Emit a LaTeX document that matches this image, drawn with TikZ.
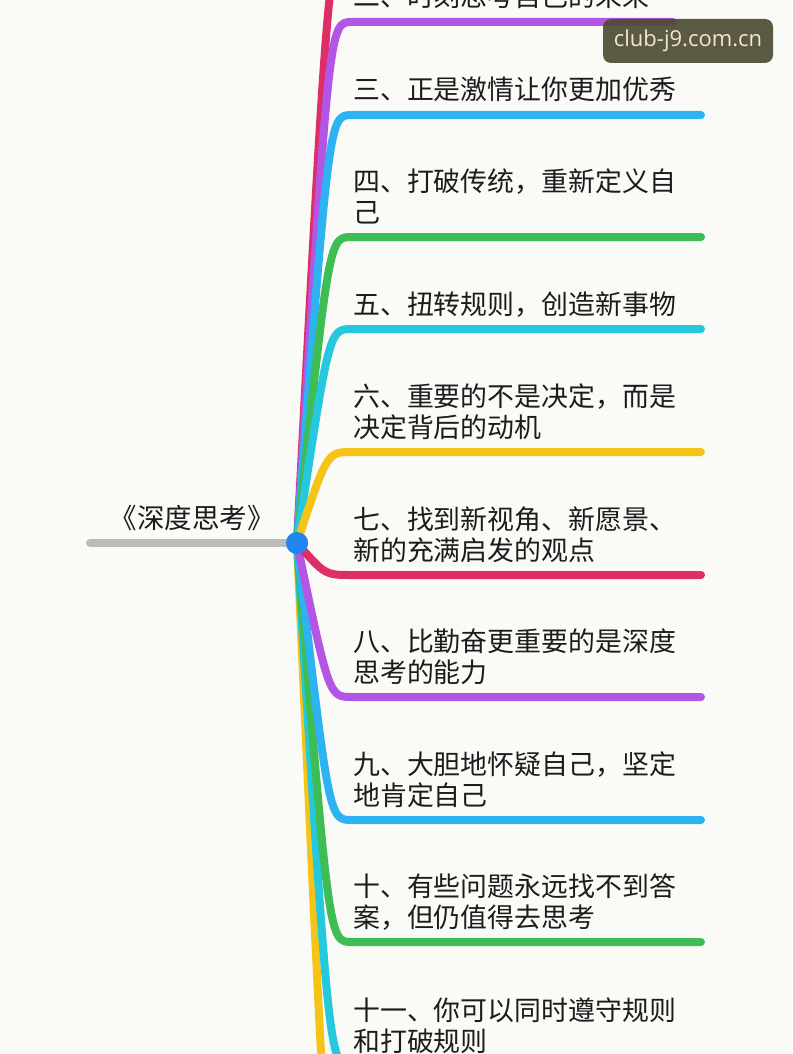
\documentclass[tikz,border=0pt]{standalone}
\usepackage{fontspec}
\setmainfont{Noto Sans CJK SC}
\newfontfamily\wmfont{Open Sans}
\definecolor{bg}{HTML}{FAFAF7}
\definecolor{txt}{HTML}{1C1C1C}
\definecolor{pinkc}{HTML}{DD2E68}
\definecolor{purp}{HTML}{B356E6}
\definecolor{skyb}{HTML}{2DB3F2}
\definecolor{grn}{HTML}{3EBD55}
\definecolor{cyanc}{HTML}{25C8DC}
\definecolor{yel}{HTML}{F6C417}
\definecolor{grayl}{HTML}{BBBBBB}
\definecolor{dotc}{HTML}{1E86EE}
\definecolor{wmbg}{HTML}{4F4C34}
\definecolor{wmtx}{HTML}{F0E6D6}
\begin{document}
\begin{tikzpicture}[x=1pt,y=-1pt,
  br/.style={line width=8pt, line cap=round, line join=round},
  lbl/.style={anchor=base west, inner sep=0pt, align=left, font=\fontsize{26.9}{31}\selectfont, text=txt}]
\useasboundingbox (0,0) rectangle (792,1054);
\clip (0,0) rectangle (792,1054);
\fill[bg] (0,0) rectangle (792,1054);

\node[circle, fill=dotc, minimum size=22pt, inner sep=0pt] (c) at (297,543) {};
\coordinate (root) at (90,543);
\draw[br, grayl] (root) -- (c.center);

% end points
\coordinate (e1) at (701,-60);
\coordinate (e2) at (673,22);
\coordinate (e3) at (701,115);
\coordinate (e4) at (701,237);
\coordinate (e5) at (701,329);
\coordinate (e6) at (701,452);
\coordinate (e7) at (701,575);
\coordinate (e8) at (701,697);
\coordinate (e9) at (701,820);
\coordinate (e10) at (701,942);
\coordinate (e11) at (701,1066);
\coordinate (e12) at (701,1250);

\draw[br, pinkc] (c.center) .. controls (329,-60) and (329,-60) .. (352,-60) -- (e1);
\draw[br, yel] (c.center) .. controls (329,1250) and (329,1250) .. (352,1250) -- (e12);
\draw[br, purp] (c.center) .. controls (329,22) and (329,22) .. (352,22) -- (e2);
\draw[br, cyanc] (c.center) .. controls (329,1066) and (329,1066) .. (352,1066) -- (e11);
\draw[br, skyb] (c.center) .. controls (329,115) and (329,115) .. (352,115) -- (e3);
\draw[br, grn] (c.center) .. controls (329,942) and (329,942) .. (352,942) -- (e10);
\draw[br, grn] (c.center) .. controls (329,237) and (329,237) .. (352,237) -- (e4);
\draw[br, skyb] (c.center) .. controls (329,820) and (329,820) .. (352,820) -- (e9);
\draw[br, cyanc] (c.center) .. controls (329,329) and (329,329) .. (352,329) -- (e5);
\draw[br, purp] (c.center) .. controls (329,697) and (329,697) .. (352,697) -- (e8);
\draw[br, pinkc] (c.center) .. controls (325,575) and (325,575) .. (352,575) -- (e7);
\draw[br, yel] (c.center) .. controls (327,452) and (327,452) .. (352,452) -- (e6);

\node[circle, fill=dotc, minimum size=22pt, inner sep=0pt] at (c) {};

\node[anchor=base, inner sep=0pt, font=\fontsize{27.5}{30}\selectfont, text=txt] (title) at (192,528) {《深度思考》};

\node[lbl] (t2) at (353,7) {二、时刻思考自己的未来};
\node[lbl] (t3) at (353,100) {三、正是激情让你更加优秀};
\node[lbl] (t4) at (353,222) {四、打破传统，重新定义自\\己};
\node[lbl] (t5) at (353,314) {五、扭转规则，创造新事物};
\node[lbl] (t6) at (353,437) {六、重要的不是决定，而是\\决定背后的动机};
\node[lbl] (t7) at (353,560) {七、找到新视角、新愿景、\\新的充满启发的观点};
\node[lbl] (t8) at (353,682) {八、比勤奋更重要的是深度\\思考的能力};
\node[lbl] (t9) at (353,805) {九、大胆地怀疑自己，坚定\\地肯定自己};
\node[lbl] (t10) at (353,927) {十、有些问题永远找不到答\\案，但仍值得去思考};
\node[lbl] (t11) at (353,1051) {十一、你可以同时遵守规则\\和打破规则};

\node[fill=wmbg, fill opacity=0.92, text opacity=1, rounded corners=8pt, minimum width=170pt, minimum height=44pt, inner sep=0pt, text=wmtx, font=\wmfont\fontsize{22}{26}\selectfont] (wm) at (688,41) {club-j9.com.cn};
\end{tikzpicture}
\end{document}
